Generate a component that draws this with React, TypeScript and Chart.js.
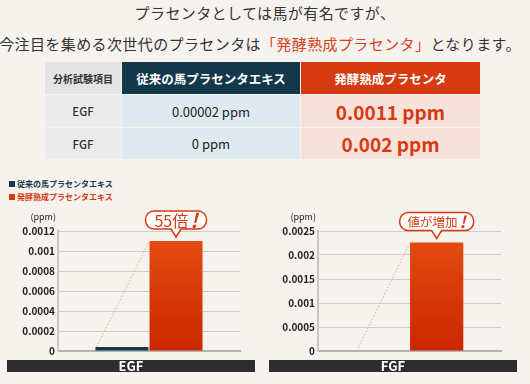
import React, { useEffect, useRef } from 'react';
import { Chart, registerables } from 'chart.js';

Chart.register(...registerables);

const titleLine1 = 'プラセンタとしては馬が有名ですが、';
const titleLine2Pre = '今注目を集める次世代のプラセンタは';
const titleLine2Em = '「発酵熟成プラセンタ」';
const titleLine2Post = 'となります。';

const tableHeaders = ['分析試験項目', '従来の馬プラセンタエキス', '発酵熟成プラセンタ'];
const tableRows = ['EGF', 'FGF'];
const tableConventional = ['0.00002 ppm', '0 ppm'];
const tableFermented = ['0.0011 ppm', '0.002 ppm'];

const seriesNames = ['従来の馬プラセンタエキス', '発酵熟成プラセンタエキス'];

const egfCategories = ['EGF'];
const egfConventional = [0.00004];
const egfFermented = [0.0011];
const egfTickValues = [0, 0.0002, 0.0004, 0.0006, 0.0008, 0.001, 0.0012];
const egfTickLabels = ['0', '0.0002', '0.0004', '0.0006', '0.0008', '0.001', '0.0012'];

const fgfCategories = ['FGF'];
const fgfConventional = [0];
const fgfFermented = [0.00226];
const fgfTickValues = [0, 0.0005, 0.001, 0.0015, 0.002, 0.0025];
const fgfTickLabels = ['0', '0.0005', '0.001', '0.0015', '0.002', '0.0025'];

const calloutTexts = ['55倍', '値が増加'];
const calloutMark = '!';
const unitLabel = '(ppm)';

const FONT = '"Noto Sans CJK JP", "Noto Sans", sans-serif';
const NAVY = '#173a4b';
const RED = '#d63a10';

const decoPlugin = {
  id: 'deco',
  beforeDatasetsDraw(chart: any) {
    const e0 = chart.getDatasetMeta(0).data[0];
    const e1 = chart.getDatasetMeta(1).data[0];
    if (!e0 || !e1) return;
    const p0 = e0.getProps(['x', 'y', 'width'], true);
    const p1 = e1.getProps(['x', 'y', 'width'], true);
    const ctx = chart.ctx;
    ctx.save();
    ctx.strokeStyle = '#f1a090';
    ctx.lineWidth = 1;
    ctx.setLineDash([1.5, 2]);
    ctx.beginPath();
    ctx.moveTo(p0.x - p0.width / 2 + 1, p0.y);
    ctx.lineTo(p1.x - p1.width / 2, p1.y);
    ctx.stroke();
    ctx.restore();
  },
  afterDatasetsDraw(chart: any, _args: any, opts: any) {
    const e1 = chart.getDatasetMeta(1).data[0];
    if (!e1) return;
    const p1 = e1.getProps(['x', 'y'], true);
    const ctx = chart.ctx;
    const cx = p1.x;
    const barTop = p1.y;
    const h = 18;
    const bottom = barTop - 12;
    const top = bottom - h;
    const w = opts.width;
    const left = cx - w / 2;
    const right = cx + w / 2;
    const r = 8.5;
    ctx.save();
    ctx.beginPath();
    ctx.moveTo(left + r, top);
    ctx.lineTo(right - r, top);
    ctx.arcTo(right, top, right, top + r, r);
    ctx.arcTo(right, bottom, right - r, bottom, r);
    ctx.lineTo(cx + 5, bottom);
    ctx.lineTo(cx, barTop - 4);
    ctx.lineTo(cx - 5, bottom);
    ctx.lineTo(left + r, bottom);
    ctx.arcTo(left, bottom, left, bottom - r, r);
    ctx.arcTo(left, top, left + r, top, r);
    ctx.closePath();
    ctx.fillStyle = '#ffffff';
    ctx.fill();
    ctx.strokeStyle = RED;
    ctx.lineWidth = 1.5;
    ctx.stroke();
    const mainFont = `${opts.fontSize}px ${FONT}`;
    const markFont = `italic bold ${opts.fontSize + 4}px ${FONT}`;
    ctx.font = mainFont;
    const mw = ctx.measureText(opts.text).width;
    ctx.font = markFont;
    const kw = ctx.measureText(calloutMark).width;
    const start = cx - (mw + kw + 2) / 2;
    const mid = top + h / 2 + 0.5;
    ctx.fillStyle = RED;
    ctx.textBaseline = 'middle';
    ctx.textAlign = 'left';
    ctx.font = mainFont;
    ctx.fillText(opts.text, start, mid);
    ctx.font = markFont;
    ctx.fillText(calloutMark, start + mw + 2, mid);
    ctx.restore();
  },
  afterDraw(chart: any) {
    const y = chart.scales.y;
    const ctx = chart.ctx;
    ctx.save();
    ctx.font = `9px ${FONT}`;
    ctx.fillStyle = '#222';
    ctx.textAlign = 'right';
    ctx.textBaseline = 'middle';
    ctx.fillText(unitLabel, y.right - 2, chart.chartArea.top - 14);
    ctx.restore();
  },
};

type BarProps = {
  categories: string[];
  conventional: number[];
  fermented: number[];
  tickValues: number[];
  tickLabels: string[];
  callout: string;
  calloutWidth: number;
  calloutFont: number;
  axisWidth: number;
  padRight: number;
  left: number;
};

function BarChart(props: BarProps) {
  const ref = useRef<HTMLCanvasElement | null>(null);
  useEffect(() => {
    if (!ref.current) return;
    const max = props.tickValues[props.tickValues.length - 1];
    const chart = new Chart(ref.current, {
      type: 'bar',
      data: {
        labels: props.categories,
        datasets: [
          {
            label: seriesNames[0],
            data: props.conventional,
            backgroundColor: NAVY,
            categoryPercentage: 0.594,
            barPercentage: 0.98,
          },
          {
            label: seriesNames[1],
            data: props.fermented,
            backgroundColor: (c: any) => {
              const ca = c.chart.chartArea;
              if (!ca) return '#dc3a0a';
              const g = c.chart.ctx.createLinearGradient(0, ca.top, 0, ca.bottom);
              g.addColorStop(0, '#e54e12');
              g.addColorStop(1, '#cb2700');
              return g;
            },
            categoryPercentage: 0.594,
            barPercentage: 0.98,
          },
        ],
      },
      options: {
        animation: false,
        responsive: false,
        maintainAspectRatio: false,
        layout: { padding: { top: 31, right: props.padRight, bottom: 8, left: 0 } },
        plugins: {
          legend: { display: false },
          tooltip: { enabled: false },
          deco: { text: props.callout, width: props.calloutWidth, fontSize: props.calloutFont },
        } as any,
        scales: {
          x: {
            ticks: { display: false },
            grid: { display: false, drawTicks: false },
            border: { color: '#b3b3b3', width: 2 },
            afterFit: (s: any) => {
              s.height = 0;
            },
          },
          y: {
            min: 0,
            max,
            afterBuildTicks: (s: any) => {
              s.ticks = props.tickValues.map((v) => ({ value: v }));
            },
            ticks: {
              callback: (_v: any, i: number) => props.tickLabels[i],
              color: '#222',
              font: { family: FONT, size: 10, weight: 'bold' },
              padding: 3,
            },
            grid: { color: '#cdcdcd', lineWidth: 1, drawTicks: false },
            border: { color: '#c6c6c6', width: 2 },
            afterFit: (s: any) => {
              s.width = props.axisWidth;
            },
          },
        },
      } as any,
      plugins: [decoPlugin],
    });
    return () => chart.destroy();
  }, []);
  return (
    <canvas
      ref={ref}
      width={265}
      height={160}
      style={{ position: 'absolute', left: props.left, top: 200, width: 265, height: 160 }}
    />
  );
}

function CategoryBar({ label, left }: { label: string; left: number }) {
  return (
    <div
      style={{
        position: 'absolute',
        left,
        top: 360,
        width: 248,
        height: 12,
        background: '#2d2d2d',
        color: '#fff',
        fontFamily: FONT,
        fontWeight: 700,
        fontSize: 13,
        lineHeight: '12px',
        textAlign: 'center',
      }}
    >
      {label}
    </div>
  );
}

export default function App() {
  const cell = (
    left: number,
    top: number,
    width: number,
    height: number,
    bg: string,
    color: string,
    size: number,
    weight: number,
    text: string
  ) => (
    <div
      key={`${left}-${top}`}
      style={{
        position: 'absolute',
        left,
        top,
        width,
        height,
        background: bg,
        color,
        fontSize: size,
        fontWeight: weight,
        fontFamily: FONT,
        display: 'flex',
        alignItems: 'center',
        justifyContent: 'center',
        whiteSpace: 'nowrap',
      }}
    >
      {text}
    </div>
  );
  const colX = [45, 122, 301];
  const colW = [76, 178, 179];
  const rowY = [62, 95, 128];
  const rowH = [32, 32, 31];
  return (
    <div
      style={{
        position: 'absolute',
        left: 0,
        top: 0,
        width: 530,
        height: 384,
        overflow: 'hidden',
        background: '#f6f3ee',
      }}
    >
      <div
        style={{
          position: 'absolute',
          left: 0,
          top: -3.5,
          width: 530,
          textAlign: 'center',
          fontFamily: FONT,
          fontSize: 15,
          lineHeight: '31px',
          letterSpacing: 0.4,
          color: '#333',
          whiteSpace: 'nowrap',
        }}
      >
        <div>{titleLine1}</div>
        <div style={{ marginLeft: -10 }}>
          {titleLine2Pre}
          <span style={{ color: '#d8431e' }}>{titleLine2Em}</span>
          {titleLine2Post}
        </div>
      </div>

      {cell(colX[0], rowY[0], colW[0], rowH[0], '#e4e4e4', '#333', 10, 700, tableHeaders[0])}
      {cell(colX[1], rowY[0], colW[1], rowH[0], '#13384a', '#fff', 12.5, 700, tableHeaders[1])}
      {cell(colX[2], rowY[0], colW[2], rowH[0], RED, '#fff', 12.5, 700, tableHeaders[2])}
      {tableRows.map((r, i) => cell(colX[0], rowY[i + 1], colW[0], rowH[i + 1], '#ebebeb', '#333', 11.5, 500, r))}
      {tableConventional.map((t, i) =>
        cell(colX[1], rowY[i + 1], colW[1], rowH[i + 1], '#deeaf0', '#222', 13, 400, t)
      )}
      {tableFermented.map((t, i) =>
        cell(colX[2], rowY[i + 1], colW[2], rowH[i + 1], '#f8e1db', '#d83a10', 19, 700, t)
      )}

      <div
        style={{
          position: 'absolute',
          left: 9,
          top: 177,
          fontFamily: FONT,
          fontSize: 8,
          fontWeight: 700,
          lineHeight: '13px',
          whiteSpace: 'nowrap',
        }}
      >
        <div style={{ color: NAVY }}>
          <span style={{ display: 'inline-block', width: 6, height: 6, background: NAVY, marginRight: 2 }} />
          {seriesNames[0]}
        </div>
        <div style={{ color: RED }}>
          <span style={{ display: 'inline-block', width: 6, height: 6, background: RED, marginRight: 2 }} />
          {seriesNames[1]}
        </div>
      </div>

      <BarChart
        categories={egfCategories}
        conventional={egfConventional}
        fermented={egfFermented}
        tickValues={egfTickValues}
        tickLabels={egfTickLabels}
        callout={calloutTexts[0]}
        calloutWidth={61}
        calloutFont={16}
        axisWidth={58}
        padRight={25}
        left={0}
      />
      <BarChart
        categories={fgfCategories}
        conventional={fgfConventional}
        fermented={fgfFermented}
        tickValues={fgfTickValues}
        tickLabels={fgfTickLabels}
        callout={calloutTexts[1]}
        calloutWidth={74}
        calloutFont={12.5}
        axisWidth={53}
        padRight={29}
        left={265}
      />
      <CategoryBar label={egfCategories[0]} left={7} />
      <CategoryBar label={fgfCategories[0]} left={269} />
    </div>
  );
}
